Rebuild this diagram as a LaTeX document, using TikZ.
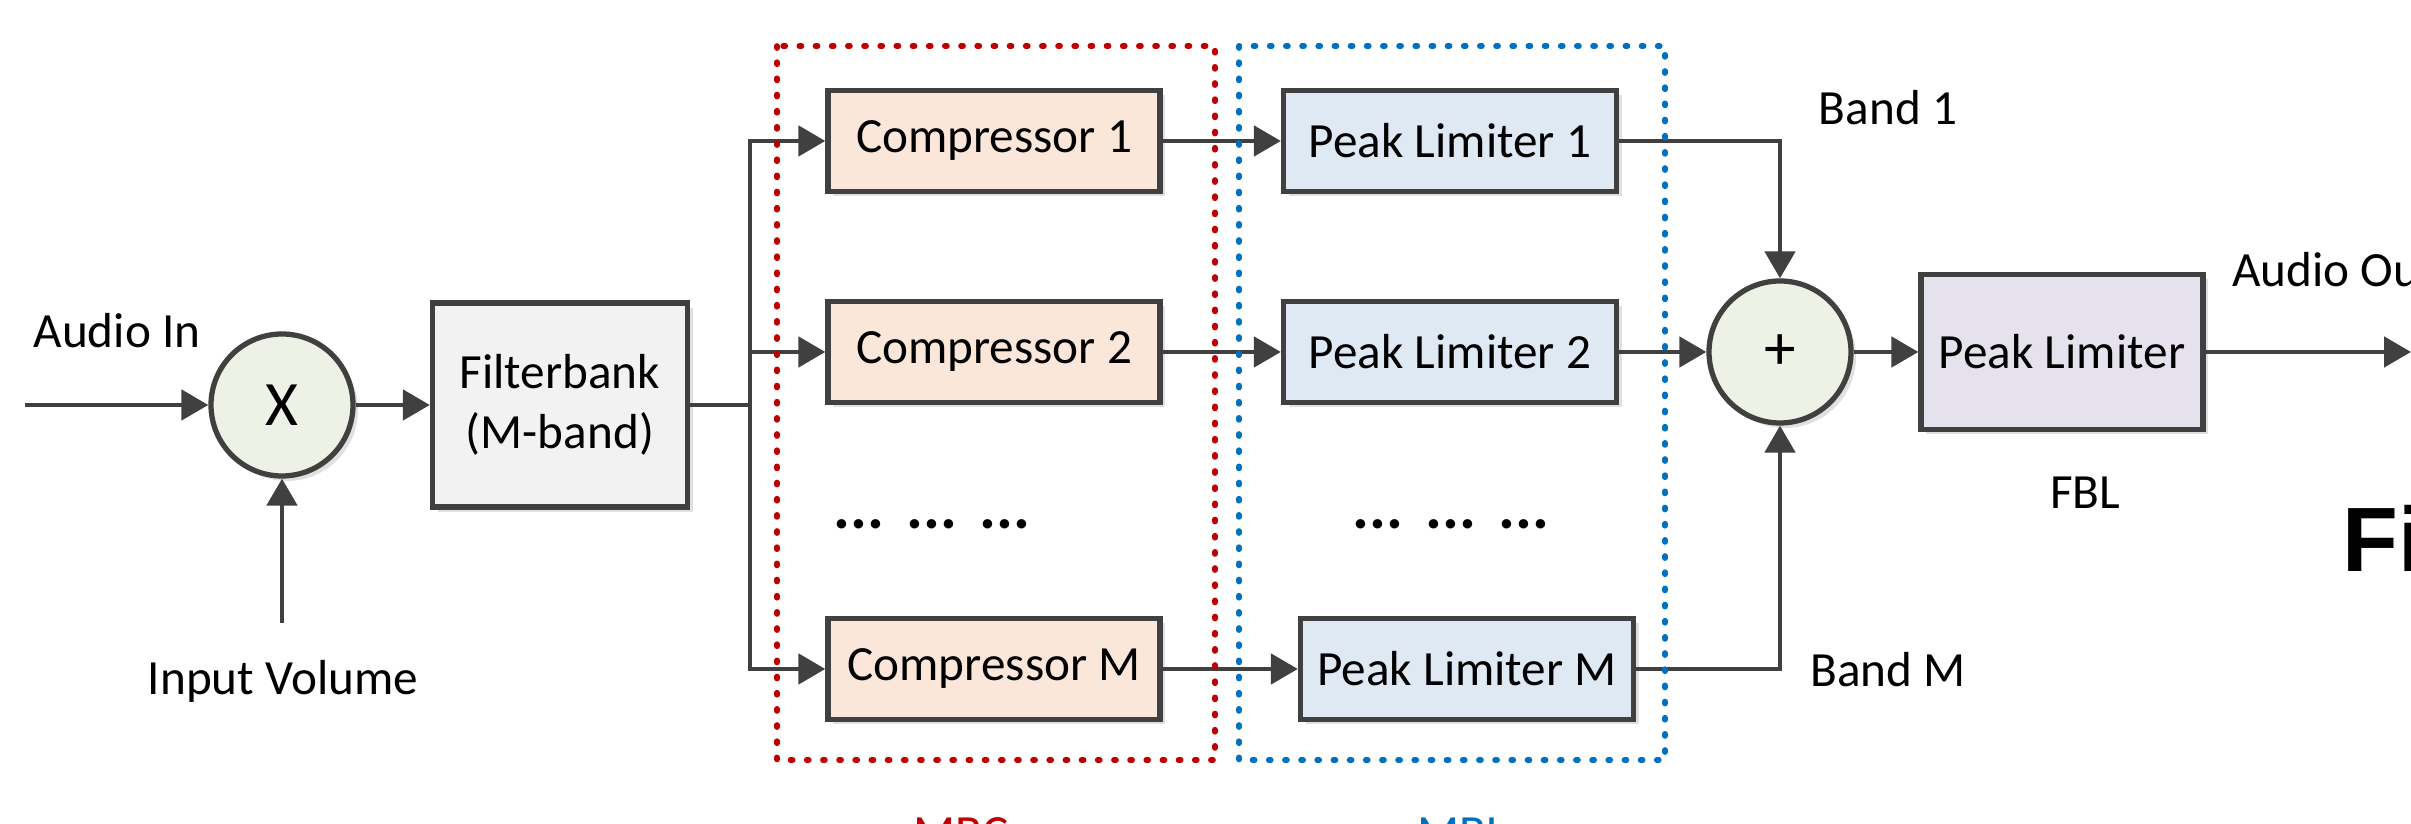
\documentclass[tikz,border=0pt]{standalone}
\usepackage{fontspec}
\setmainfont{Carlito}
\newfontfamily\figfont{Liberation Sans}
\usetikzlibrary{positioning, arrows.meta, shadows}

\definecolor{linegray}{HTML}{404040}
\definecolor{compfill}{HTML}{FBE6DA}
\definecolor{limfill}{HTML}{DFE9F3}
\definecolor{fblfill}{HTML}{E5E2EE}
\definecolor{fbfill}{HTML}{F2F2F2}
\definecolor{opfill}{HTML}{EDF1E6}
\definecolor{mbcred}{HTML}{C00000}
\definecolor{mblblue}{HTML}{0070C0}

\begin{document}
\begin{tikzpicture}[
    font=\fontsize{14}{17}\selectfont,
    block/.style={draw=linegray, line width=1.5pt, minimum width=3.32cm, minimum height=1.01cm,
        drop shadow={shadow xshift=0.05cm, shadow yshift=-0.05cm, fill=black, opacity=0.12}},
    op/.style={circle, draw=linegray, line width=1.5pt, fill=opfill, minimum size=1.42cm, inner sep=0pt,
        font=\fontsize{18}{20}\selectfont,
        drop shadow={shadow xshift=0.05cm, shadow yshift=-0.05cm, fill=black, opacity=0.12}},
    wire/.style={draw=linegray, line width=1.4pt},
    arr/.style={wire, -{Triangle[length=0.27cm, width=0.3cm]}},
    group/.style={line width=1.6pt, dash pattern=on 0.6pt off 4pt, line cap=round},
    skip/.style={font=\fontsize{18}{20}\selectfont\bfseries}
]
    \clip (0,0) rectangle (24.11,8.24);

    % input side
    \coordinate (ain) at (0.25,4.19);
    \coordinate (vol) at (2.82,2.01);
    \node[op] (mul) at (2.82,4.19) {X};
    \node (ainlbl) at (1.17,4.93) {Audio In};
    \node (vollbl) at (2.83,1.43) {Input Volume};
    \node[block, fill=fbfill, minimum width=2.55cm, minimum height=2.04cm, align=center] (fb) at (5.60,4.19) {Filterbank\\(M-band)};
    \coordinate (split) at (7.50,4.19);

    % compressors and peak limiters per band
    \node[block, fill=compfill] (comp1) at (9.94,6.83) {Compressor 1};
    \node[block, fill=compfill] (comp2) at (9.94,4.72) {Compressor 2};
    \node[block, fill=compfill] (compM) at (9.94,1.55) {Compressor M};
    \node[block, fill=limfill, minimum width=3.33cm] (lim1) at (14.50,6.83) {Peak Limiter 1};
    \node[block, fill=limfill, minimum width=3.33cm] (lim2) at (14.50,4.72) {Peak Limiter 2};
    \node[block, fill=limfill, minimum width=3.33cm] (limM) at (14.67,1.55) {Peak Limiter M};
    \node[skip] (cdots) at (9.32,3.0) {...\hspace{0.35em}...\hspace{0.35em}...};
    \node[skip] (ldots) at (14.51,3.0) {...\hspace{0.35em}...\hspace{0.35em}...};

    % summation and full band limiter
    \node[op] (sum) at (17.80,4.72) {+};
    \node (band1) at (18.88,7.16) {Band 1};
    \node (bandM) at (18.88,1.54) {Band M};
    \node[block, fill=fblfill, minimum width=2.82cm, minimum height=1.55cm] (fbl) at (20.62,4.72) {Peak Limiter};
    \node (fbllbl) at (20.85,3.31) {FBL};
    \coordinate (aout) at (24.11,4.72);
    \node[anchor=west] (aoutlbl) at (22.20,5.54) {Audio Out};
    \node[anchor=base west, font=\figfont\bfseries\fontsize{26}{30}\selectfont] (figlbl) at (23.30,2.52) {Fi};

    % connections
    \draw[arr] (ain) -- (mul);
    \draw[arr] (vol) -- (mul);
    \draw[arr] (mul) -- (fb);
    \draw[wire] (fb.east) -- (split);
    \draw[arr] (split) |- (comp1.west);
    \draw[arr] (split) |- (comp2.west);
    \draw[arr] (split) |- (compM.west);
    \draw[arr] (comp1) -- (lim1);
    \draw[arr] (comp2) -- (lim2);
    \draw[arr] (compM) -- (limM);
    \draw[arr] (lim1.east) -| (sum.north);
    \draw[arr] (lim2) -- (sum);
    \draw[arr] (limM.east) -| (sum.south);
    \draw[arr] (sum) -- (fbl);
    \draw[arr] (fbl) -- (aout);

    % MBC / MBL groups
    \draw[group, mbcred] (7.77,7.78) rectangle (12.15,0.64);
    \draw[group, mblblue] (12.39,7.78) rectangle (16.65,0.64);
    \node[text=mbcred] (mbc) at (9.61,-0.1) {MBC};
    \node[text=mblblue] (mbl) at (14.62,-0.1) {MBL};
\end{tikzpicture}
\end{document}
